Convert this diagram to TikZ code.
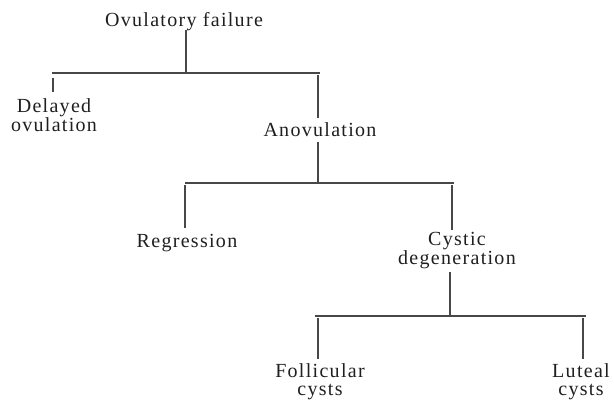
\documentclass[tikz,border=0pt]{standalone}
\usepackage{fontspec}
\setmainfont{Liberation Serif}[LetterSpace=6.5]
\begin{document}
\begin{tikzpicture}[x=1pt,y=-1pt,
  lbl/.style={inner sep=0pt,anchor=base,align=center,font=\fontsize{20}{18}\selectfont,text=black!88},
  ln/.style={draw=black!72,line width=1.1pt}]
\useasboundingbox (0,0) rectangle (614,403);
% nodes
\node[lbl] (of) at (184,27) {Ovulatory failure};
\node[lbl] (dov) at (54,131.5) {Delayed\\ovulation};
\node[lbl] (ano) at (320,137) {Anovulation};
\node[lbl] (reg) at (187,248) {Regression};
\node[lbl] (cys) at (457,264.5) {Cystic\\degeneration};
\node[lbl] (fol) at (320,395.5) {Follicular\\cysts};
\node[lbl] (lut) at (581,395.5) {Luteal\\cysts};
% coordinates
\coordinate (t1a) at (186,30);
\coordinate (t1b) at (186,73);
\coordinate (b1l) at (52,73);
\coordinate (b1r) at (320,73);
\coordinate (d1a) at (53,78);
\coordinate (d1b) at (53,92);
\coordinate (d2a) at (318,75);
\coordinate (d2b) at (318,118);
\coordinate (t2a) at (318,142);
\coordinate (t2b) at (318,183);
\coordinate (b2l) at (185,183);
\coordinate (b2r) at (454,183);
\coordinate (d3a) at (185,185);
\coordinate (d3b) at (185,228);
\coordinate (d4a) at (452,185);
\coordinate (d4b) at (452,230);
\coordinate (t3a) at (450,272);
\coordinate (t3b) at (450,315);
\coordinate (b3l) at (315,316);
\coordinate (b3r) at (586,316);
\coordinate (d5a) at (318,318);
\coordinate (d5b) at (318,359);
\coordinate (d6a) at (583,318);
\coordinate (d6b) at (583,359);
% connectors
\draw[ln] (t1a) -- (t1b);
\draw[ln] (b1l) -- (b1r);
\draw[ln] (d1a) -- (d1b);
\draw[ln] (d2a) -- (d2b);
\draw[ln] (t2a) -- (t2b);
\draw[ln] (b2l) -- (b2r);
\draw[ln] (d3a) -- (d3b);
\draw[ln] (d4a) -- (d4b);
\draw[ln] (t3a) -- (t3b);
\draw[ln] (b3l) -- (b3r);
\draw[ln] (d5a) -- (d5b);
\draw[ln] (d6a) -- (d6b);
\end{tikzpicture}
\end{document}
